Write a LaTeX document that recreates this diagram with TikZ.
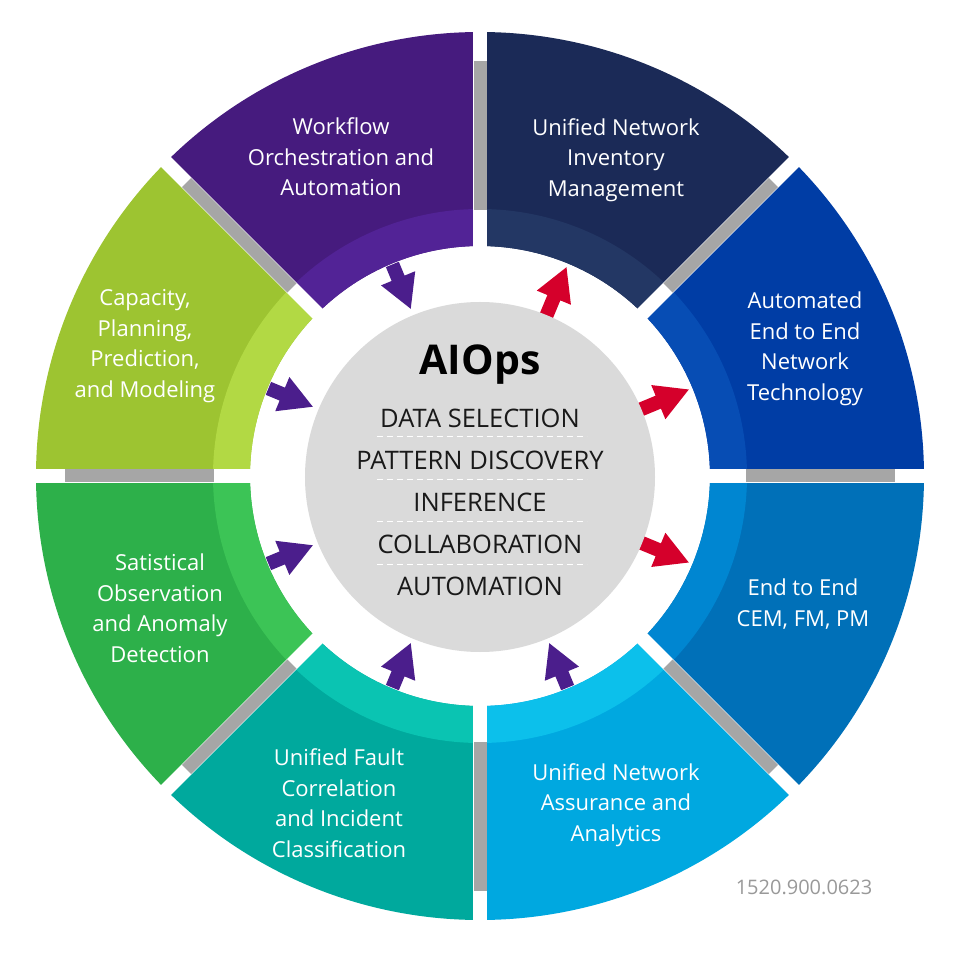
\documentclass[tikz,border=0pt]{standalone}
\usepackage{fontspec}
\setmainfont{Open Sans}
\definecolor{cPurple}{HTML}{461B7E}\definecolor{cPurpleB}{HTML}{522396}
\definecolor{cNavy}{HTML}{1B2A57}\definecolor{cNavyB}{HTML}{233764}
\definecolor{cBlue}{HTML}{003DA5}\definecolor{cBlueB}{HTML}{074DB4}
\definecolor{cMid}{HTML}{0070B8}\definecolor{cMidB}{HTML}{0086D1}
\definecolor{cCyan}{HTML}{00A8E0}\definecolor{cCyanB}{HTML}{0CC0EB}
\definecolor{cTeal}{HTML}{00A99D}\definecolor{cTealB}{HTML}{0AC4B2}
\definecolor{cGreen}{HTML}{2DB04A}\definecolor{cGreenB}{HTML}{3CC456}
\definecolor{cLime}{HTML}{9DC431}\definecolor{cLimeB}{HTML}{B2D944}
\definecolor{arrPurple}{HTML}{4B1E8C}\definecolor{arrRed}{HTML}{D5002B}
\definecolor{hubGray}{HTML}{DADADA}\definecolor{gapGray}{HTML}{A6A6A6}
\definecolor{codeGray}{HTML}{999999}
\tikzset{
  segtext/.style={text=white, align=center, font=\fontsize{22}{30.5}\selectfont, inner sep=0pt},
  listtext/.style={text=black!90, font=\fontsize{25.5}{28}\selectfont, inner sep=0pt},
  sepline/.style={white, line width=1pt, dash pattern=on 6pt off 4pt},
}
\begin{document}
\begin{tikzpicture}[x=1pt,y=1pt]
\useasboundingbox (-480,-476) rectangle (480,476);
\fill[white] (-480,-476) rectangle (480,476);
% segments
\foreach \a/\m/\b in {0/cBlue/cBlueB,45/cNavy/cNavyB,90/cPurple/cPurpleB,135/cLime/cLimeB,180/cGreen/cGreenB,225/cTeal/cTealB,270/cCyan/cCyanB,315/cMid/cMidB}{
  \fill[\m] (\a:230pt) -- (\a:444pt) arc[start angle=\a, end angle=\a+45, radius=444pt] -- (\a+45:230pt) arc[start angle=\a+45, end angle=\a, radius=230pt] -- cycle;
  \fill[\b] (\a:230pt) -- (\a:267pt) arc[start angle=\a, end angle=\a+45, radius=267pt] -- (\a+45:230pt) arc[start angle=\a+45, end angle=\a, radius=230pt] -- cycle;
}
% gaps and gray bars
\foreach \a in {0,45,...,315}{
  \draw[white, line width=14pt] (\a:215pt) -- (\a:460pt);
  \draw[gapGray, line width=13pt] (\a:266pt) -- (\a:415pt);
}
% arrows
\foreach \t in {112.5,157.5,202.5,247.5,292.5}{
  \fill[arrPurple, shift={(\t:229pt)}, rotate=\t+180] (0,-7) -- (15,-7) -- (15,-18.5) -- (48,0) -- (15,18.5) -- (15,7) -- (0,7) -- cycle;
}
\foreach \t in {67.5,22.5,-22.5}{
  \fill[arrRed, shift={(\t:172pt)}, rotate=\t] (0,-7) -- (21,-7) -- (21,-18.5) -- (54,0) -- (21,18.5) -- (21,7) -- (0,7) -- cycle;
}
% hub
\node[circle, fill=hubGray, minimum size=350pt, inner sep=0pt] (hub) at (0,-1) {};
\node[font=\fontsize{41}{43}\selectfont\bfseries, inner sep=0pt] (title) at (0,111) {AIOps};
\node[listtext] (l1) at (0,58) {DATA SELECTION};
\node[listtext] (l2) at (0,16) {PATTERN DISCOVERY};
\node[listtext] (l3) at (0,-26) {INFERENCE};
\node[listtext] (l4) at (0,-68) {COLLABORATION};
\node[listtext] (l5) at (0,-110) {AUTOMATION};
\foreach \y in {39,-4,-46,-88}{\draw[sepline] (-103,\y) -- (107,\y);}
% segment texts
\node[segtext] (s1) at (-139,319) {Workflow\\Orchestration and\\Automation};
\node[segtext] (s2) at (136,316) {Unified Network\\Inventory\\Management};
\node[segtext] (s3) at (325,127) {Automated\\End to End\\Network\\Technology};
\node[segtext] (s4) at (323,-128) {End to End\\CEM, FM, PM};
\node[segtext] (s5) at (136,-329) {Unified Network\\Assurance and\\Analytics};
\node[segtext] (s6) at (-141,-327) {Unified Fault\\Correlation\\and Incident\\Classification};
\node[segtext] (s7) at (-320,-132) {Satistical\\Observation\\and Anomaly\\Detection};
\node[segtext] (s8) at (-335,130) {Capacity,\\Planning,\\Prediction,\\and Modeling};
\node[text=codeGray, font=\fontsize{20}{22}\selectfont, inner sep=0pt] (code) at (324,-411) {1520.900.0623};
\end{tikzpicture}
\end{document}
